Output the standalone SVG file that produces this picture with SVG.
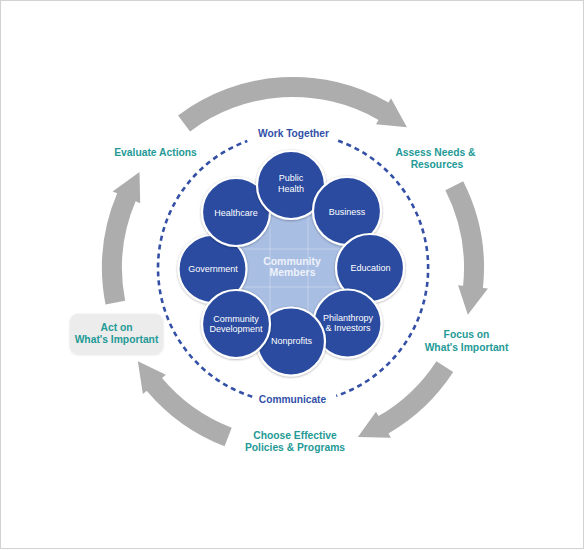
<svg xmlns="http://www.w3.org/2000/svg" width="585" height="550" viewBox="0 0 585 550">
<defs>
<style>
.arrow{fill:#adadad;}
.dash{fill:none;stroke:#3350a6;stroke-width:2.6;stroke-dasharray:5 4;}
.lbl{font-family:"Liberation Sans",Arial,sans-serif;font-weight:bold;font-size:10.3px;fill:#249a97;text-anchor:middle;}
.blbl{font-family:"Liberation Sans",Arial,sans-serif;font-weight:bold;font-size:10.2px;fill:#3150a8;text-anchor:middle;}
.node circle{fill:#2b4ba0;stroke:#ffffff;stroke-width:2.2;filter:url(#sh);}
.node text{font-family:"Liberation Sans",Arial,sans-serif;font-size:9px;fill:#ffffff;text-anchor:middle;}
.grid{stroke:#ffffff;stroke-opacity:0.3;stroke-width:1;}
</style>
<filter id="sh" x="-20%" y="-20%" width="140%" height="140%">
<feDropShadow dx="0" dy="0.6" stdDeviation="1" flood-color="#000000" flood-opacity="0.35"/>
</filter>
<filter id="sh2" x="-10%" y="-20%" width="120%" height="140%">
<feDropShadow dx="0" dy="0.5" stdDeviation="0.8" flood-color="#000000" flood-opacity="0.15"/>
</filter>
<clipPath id="cc"><circle cx="292" cy="266" r="72"/></clipPath>
</defs>
<rect x="0.5" y="0.5" width="583" height="548" fill="#ffffff" stroke="#d2d2d2" stroke-width="1"/>

<g id="connectors">
<path class="arrow" d="M178.05,115.46 A191,191 0 0 1 388.5,102.59 L391,98.26 L406.91,127.34 L376,124.24 L378.5,119.91 A171,171 0 0 0 190.09,131.43 Z"/>
<path class="arrow" d="M463.18,181.29 A191,191 0 0 1 482.95,287.97 L487.93,288.49 L467.83,314.85 L458.09,285.35 L463.06,285.87 A171,171 0 0 0 445.36,190.37 Z"/>
<path class="arrow" d="M453.19,372.03 A191,191 0 0 1 388.5,433.41 L391,437.74 L357.86,436.98 L376,411.76 L378.5,416.09 A171,171 0 0 0 436.41,361.13 Z"/>
<path class="arrow" d="M224.55,446.31 A191,191 0 0 1 146.69,390.77 L142.86,393.99 L137.85,361.22 L165.84,374.70 L162.01,377.92 A171,171 0 0 0 231.72,427.64 Z"/>
<path class="arrow" d="M105.51,304.45 A191,191 0 0 1 117.18,193.37 L112.58,191.42 L139.50,172.08 L140.20,203.14 L135.59,201.18 A171,171 0 0 0 125.14,300.63 Z"/>
<path class="dash" d="M338.1,140.7 A135,135 0 0 1 336.3,395.9"/>
<path class="dash" d="M252.2,396.7 A135,135 0 0 1 247.3,141.0"/>
</g>

<g id="labels">
<text class="lbl" x="155.5" y="156">Evaluate Actions</text>
<text class="lbl" x="435.5" y="156">Assess Needs &amp;</text>
<text class="lbl" x="437" y="168">Resources</text>
<text class="lbl" x="466.5" y="337.5">Focus on</text>
<text class="lbl" x="466.5" y="351">What's Important</text>
<text class="lbl" x="295" y="438.5">Choose Effective</text>
<text class="lbl" x="295" y="450.5">Policies &amp; Programs</text>
<text class="blbl" x="293.5" y="137">Work Together</text>
<text class="blbl" x="292.5" y="403">Communicate</text>
</g>

<g id="act-on">
<rect x="70" y="314" width="93" height="40" rx="8" ry="8" fill="#ececec" filter="url(#sh2)"/>
<text class="lbl" x="116.5" y="331">Act on</text>
<text class="lbl" x="116.5" y="343">What's Important</text>
</g>

<g id="community-members">
<circle cx="292" cy="266" r="72" fill="#a9bee3"/>
<g clip-path="url(#cc)">
<line class="grid" x1="232" y1="190" x2="232" y2="345"/>
<line class="grid" x1="270" y1="190" x2="270" y2="345"/>
<line class="grid" x1="308" y1="190" x2="308" y2="345"/>
<line class="grid" x1="346" y1="190" x2="346" y2="345"/>
<line class="grid" x1="215" y1="211" x2="370" y2="211"/>
<line class="grid" x1="215" y1="249" x2="370" y2="249"/>
<line class="grid" x1="215" y1="287" x2="370" y2="287"/>
<line class="grid" x1="215" y1="325" x2="370" y2="325"/>
</g>
</g>

<g id="government" class="node"><circle cx="212.5" cy="269" r="34"/><text x="213" y="272">Government</text></g>
<g id="healthcare" class="node"><circle cx="236" cy="212" r="34"/><text x="236" y="215.5">Healthcare</text></g>
<g id="public-health" class="node"><circle cx="291" cy="185" r="34"/><text x="291" y="181">Public</text><text x="291" y="192">Health</text></g>
<g id="business" class="node"><circle cx="347" cy="211" r="34"/><text x="347" y="214.5">Business</text></g>
<g id="education" class="node"><circle cx="370" cy="268" r="34"/><text x="370.5" y="271">Education</text></g>
<g id="philanthropy" class="node"><circle cx="347.5" cy="323.5" r="34"/><text x="348" y="320.5">Philanthropy</text><text x="348" y="331">&amp; Investors</text></g>
<g id="nonprofits" class="node"><circle cx="291" cy="341.5" r="34"/><text x="291.5" y="343.5">Nonprofits</text></g>
<g id="community-development" class="node"><circle cx="236" cy="324" r="34"/><text x="236" y="322">Community</text><text x="236" y="332">Development</text></g>

<text x="292" y="264.5" font-family="Liberation Sans, Arial, sans-serif" font-weight="bold" font-size="10.5" fill="#eef2fa" text-anchor="middle">Community</text>
<text x="292.5" y="276" font-family="Liberation Sans, Arial, sans-serif" font-weight="bold" font-size="10.5" fill="#eef2fa" text-anchor="middle">Members</text>
</svg>
